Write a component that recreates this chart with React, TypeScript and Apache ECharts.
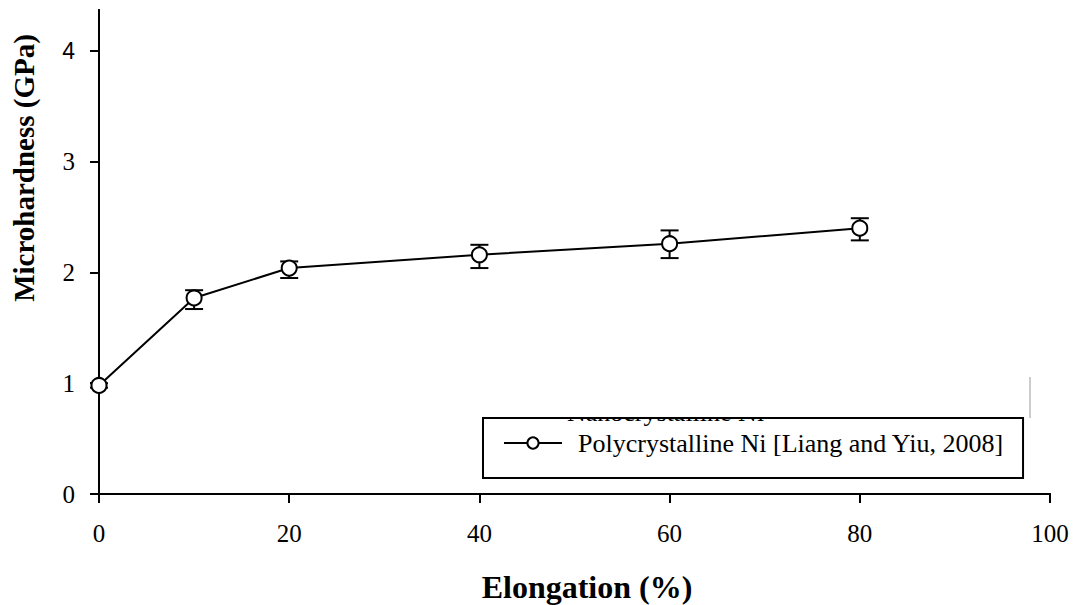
import React, { useEffect, useRef } from "react";
import * as echarts from "echarts";

// Elongation (%) vs. microhardness (GPa) with error bars
const elongation = [0, 10, 20, 40, 60, 80];
const hardness = [0.98, 1.77, 2.04, 2.16, 2.26, 2.4];
const hardnessLow = [0.96, 1.67, 1.95, 2.04, 2.13, 2.29];
const hardnessHigh = [1.0, 1.84, 2.1, 2.25, 2.38, 2.49];
const xTickValues = [0, 20, 40, 60, 80, 100];
const yTickValues = [0, 1, 2, 3, 4];

const seriesName = "Polycrystalline Ni [Liang and Yiu, 2008]";
const hiddenEntry = "Nanocrystalline Ni";

const SERIF = '"Liberation Serif", "Times New Roman", Times, serif';
const SANS = '"Liberation Sans", Arial, sans-serif';

export default function App() {
  const ref = useRef<HTMLDivElement>(null);

  useEffect(() => {
    if (!ref.current) return;
    const chart = echarts.init(ref.current, undefined, { renderer: "svg" });

    const axisLine = { show: true, lineStyle: { color: "#000", width: 2 } };

    chart.setOption({
      animation: false,
      backgroundColor: "#fff",
      grid: { left: 99, right: 23, top: 10, bottom: 111, containLabel: false },
      xAxis: [
        {
          type: "value",
          min: 0,
          max: 100,
          interval: 20,
          axisLine,
          axisTick: { show: true, inside: false, length: 9, lineStyle: { color: "#000", width: 2 } },
          axisLabel: {
            margin: 27,
            color: "#000",
            fontFamily: SERIF,
            fontSize: 25,
            customValues: xTickValues,
          },
          splitLine: { show: false },
        },
        {
          type: "value",
          position: "top",
          min: 0,
          max: 100,
          axisLine,
          axisTick: { show: false },
          axisLabel: { show: false },
          splitLine: { show: false },
        },
      ],
      yAxis: [
        {
          type: "value",
          min: 0,
          max: 4.37,
          axisLine,
          axisTick: {
            show: true,
            inside: false,
            length: 9,
            lineStyle: { color: "#000", width: 2 },
            customValues: yTickValues,
          },
          axisLabel: {
            margin: 24,
            color: "#000",
            fontFamily: SERIF,
            fontSize: 25,
            customValues: yTickValues,
            formatter: (v: number) => (v === 4 ? "{s|4}" : String(v)),
            rich: { s: { fontFamily: SANS, fontSize: 23, color: "#000" } },
          },
          splitLine: { show: false },
        },
        {
          type: "value",
          position: "right",
          min: 0,
          max: 4.37,
          axisLine,
          axisTick: { show: false },
          axisLabel: { show: false },
          splitLine: { show: false },
        },
      ],
      legend: {
        data: [seriesName],
        left: 483,
        top: 418,
        orient: "horizontal",
        borderColor: "#000",
        borderWidth: 2,
        padding: [10, 19, 20, 20],
        itemWidth: 58,
        itemHeight: 14,
        itemGap: 0,
        backgroundColor: "transparent",
        textStyle: {
          fontFamily: SERIF,
          fontSize: 26,
          lineHeight: 30,
          color: "#000",
          padding: [0, 0, 0, 11],
        },
        z: 10,
      },
      graphic: [
        {
          type: "text",
          x: 567,
          y: 412,
          z: 1,
          style: {
            text: hiddenEntry,
            fill: "#000",
            font: `26px ${SERIF}`,
            verticalAlign: "middle",
          },
        },
        {
          type: "rect",
          shape: { x: 555, y: 360, width: 230, height: 59 },
          z: 2,
          style: { fill: "#fff" },
        },
        {
          type: "line",
          shape: { x1: 1030, y1: 377, x2: 1030, y2: 418 },
          z: 3,
          style: { stroke: "#9a9a9a", lineWidth: 1 },
        },
        {
          type: "text",
          x: 587,
          y: 587,
          style: {
            text: "Elongation (%)",
            fill: "#000",
            font: `bold 32px ${SERIF}`,
            align: "center",
            verticalAlign: "middle",
          },
        },
        {
          type: "text",
          x: 24,
          y: 168,
          rotation: Math.PI / 2,
          style: {
            text: "Microhardness (GPa)",
            fill: "#000",
            font: `bold 29px ${SERIF}`,
            align: "center",
            verticalAlign: "middle",
          },
        },
      ],
      series: [
        {
          type: "custom",
          name: "error",
          silent: true,
          z: 2,
          clip: false,
          data: elongation.map((x, i) => [x, hardnessLow[i], hardnessHigh[i]]),
          encode: { x: 0, y: [1, 2] },
          renderItem: (_params: any, api: any) => {
            const x = api.value(0);
            const lo = api.coord([x, api.value(1)]);
            const hi = api.coord([x, api.value(2)]);
            const hw = 9;
            const style = { stroke: "#000", lineWidth: 2 };
            return {
              type: "group",
              children: [
                { type: "line", shape: { x1: lo[0], y1: lo[1], x2: hi[0], y2: hi[1] }, style },
                { type: "line", shape: { x1: lo[0] - hw, y1: lo[1], x2: lo[0] + hw, y2: lo[1] }, style },
                { type: "line", shape: { x1: hi[0] - hw, y1: hi[1], x2: hi[0] + hw, y2: hi[1] }, style },
              ],
            };
          },
        },
        {
          type: "line",
          name: seriesName,
          z: 5,
          clip: false,
          data: elongation.map((x, i) => [x, hardness[i]]),
          symbol: "circle",
          symbolSize: 15,
          lineStyle: { color: "#000", width: 2 },
          itemStyle: { color: "#fff", borderColor: "#000", borderWidth: 2 },
        },
      ],
    });

    return () => chart.dispose();
  }, []);

  return (
    <div
      ref={ref}
      style={{ position: "fixed", left: 0, top: 0, width: 1073, height: 605, background: "#fff" }}
    />
  );
}
